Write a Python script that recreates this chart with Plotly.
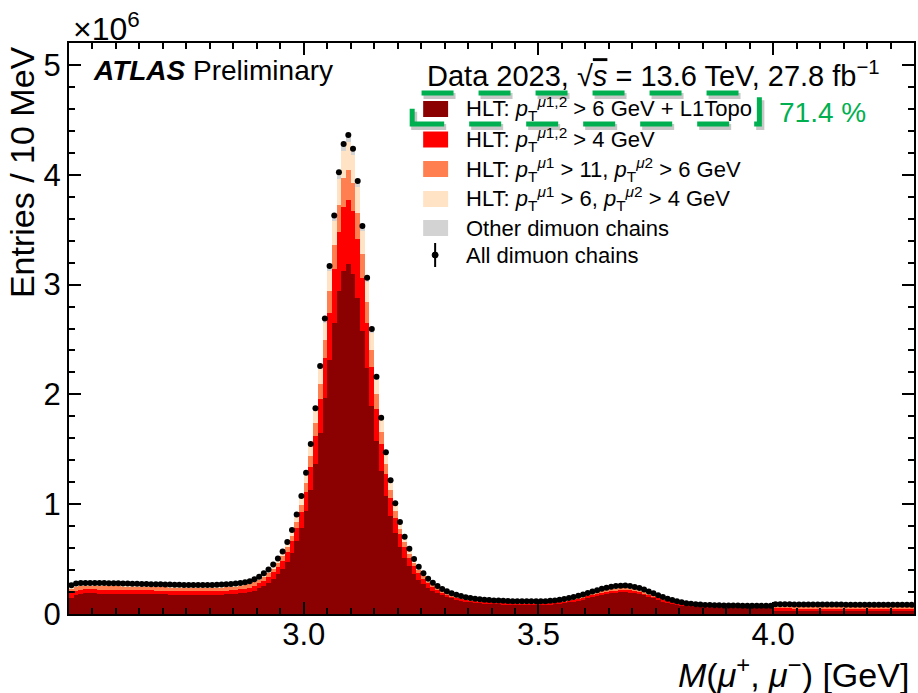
import numpy as np
import plotly.graph_objects as go

# ---------------- data (thousands of entries per 10 MeV bin) ----------------
bin_low, bin_width, n_bins = 2.50, 0.01, 180
mass_centers = np.round(bin_low + bin_width * (np.arange(n_bins) + 0.5), 4)

all_chains = [
    262, 278, 282, 283, 283, 283, 282, 282, 281, 280,
    279, 278, 277, 276, 275, 274, 273, 272, 271, 270,
    269, 268, 267, 266, 265, 264, 264, 264, 264, 264,
    265, 266, 268, 270, 273, 277, 282, 289, 298, 316,
    340, 370, 405, 450, 505, 570, 655, 765, 905, 1075,
    1287, 1548, 1873, 2259, 2690, 3169, 3628, 4023, 4280, 4362,
    4238, 3944, 3534, 3063, 2596, 2161, 1788, 1473, 1218, 1008,
    838, 704, 595, 500, 430, 370, 322, 285, 255, 228,
    207, 190, 176, 164, 153, 145, 139, 134, 130, 127,
    124, 122, 120, 118, 117, 116, 115, 115, 115, 115,
    115, 117, 120, 124, 130, 137, 145, 155, 166, 178,
    191, 204, 217, 229, 240, 248, 254, 258, 259, 256,
    247, 236, 222, 205, 188, 171, 155, 140, 127, 116,
    106, 99, 93, 89, 86, 83, 81, 80, 79, 78,
    78, 77, 77, 76, 76, 76, 75, 75, 75, 75,
    88, 88, 88, 88, 87, 87, 87, 87, 87, 86,
    86, 86, 86, 86, 86, 85, 85, 85, 85, 85,
    85, 85, 84, 84, 84, 84, 84, 84, 84, 84,
]

hlt_6gev_l1topo = [
    145, 172, 186, 187, 187, 187, 186, 186, 185, 185,
    184, 183, 183, 182, 182, 181, 180, 180, 179, 178,
    178, 177, 176, 176, 175, 174, 174, 174, 174, 174,
    175, 176, 177, 178, 180, 183, 187, 193, 200, 214,
    233, 256, 283, 318, 360, 410, 478, 558, 661, 785,
    940, 1130, 1367, 1649, 1964, 2313, 2648, 2937, 3124, 3184,
    3094, 2879, 2580, 2236, 1895, 1578, 1305, 1075, 889, 736,
    612, 514, 434, 365, 314, 272, 238, 212, 191, 172,
    157, 144, 134, 125, 116, 110, 106, 102, 99, 97,
    94, 93, 91, 90, 89, 88, 87, 87, 87, 87,
    87, 89, 91, 94, 99, 104, 110, 118, 126, 135,
    145, 155, 165, 174, 182, 188, 193, 196, 197, 195,
    188, 179, 169, 156, 143, 130, 118, 106, 97, 88,
    81, 75, 71, 68, 65, 63, 62, 61, 60, 59,
    59, 58, 58, 58, 58, 58, 57, 57, 57, 57,
    30, 30, 30, 30, 30, 30, 30, 30, 30, 29,
    29, 29, 29, 29, 29, 29, 29, 29, 29, 29,
    29, 29, 29, 29, 29, 29, 29, 29, 29, 29,
]

hlt_4gev = [
    50, 40, 37, 37, 37, 37, 37, 37, 37, 36,
    36, 36, 36, 36, 36, 36, 35, 35, 35, 35,
    35, 35, 35, 35, 34, 34, 34, 34, 34, 34,
    34, 35, 35, 35, 35, 37, 38, 39, 40, 42,
    45, 49, 54, 60, 67, 76, 88, 103, 122, 145,
    174, 209, 253, 305, 363, 428, 490, 543, 578, 589,
    572, 532, 477, 414, 350, 292, 241, 199, 164, 136,
    113, 95, 80, 68, 58, 49, 42, 36, 31, 25,
    21, 19, 18, 16, 15, 15, 14, 13, 13, 13,
    12, 12, 12, 12, 12, 12, 12, 12, 12, 12,
    12, 12, 12, 12, 13, 14, 15, 16, 17, 18,
    19, 20, 22, 23, 24, 25, 25, 26, 26, 26,
    25, 24, 22, 21, 19, 17, 16, 14, 13, 12,
    11, 10, 9, 9, 9, 8, 8, 8, 8, 8,
    8, 8, 8, 8, 8, 8, 8, 8, 8, 8,
    25, 25, 25, 25, 24, 24, 24, 24, 24, 24,
    24, 24, 24, 24, 24, 24, 24, 24, 24, 24,
    24, 24, 23, 23, 23, 23, 23, 23, 23, 23,
]

hlt_11_6gev = [
    35, 32, 31, 31, 31, 31, 31, 31, 31, 31,
    31, 31, 30, 30, 30, 30, 30, 30, 30, 30,
    30, 29, 29, 29, 29, 29, 29, 29, 29, 29,
    29, 29, 29, 30, 30, 30, 30, 30, 31, 31,
    32, 33, 35, 36, 37, 38, 41, 47, 56, 67,
    80, 96, 116, 140, 167, 196, 225, 249, 265, 270,
    263, 245, 219, 190, 161, 134, 111, 91, 76, 62,
    52, 44, 37, 31, 27, 23, 20, 17, 15, 14,
    12, 11, 11, 10, 9, 9, 8, 8, 8, 8,
    7, 7, 7, 7, 7, 7, 7, 7, 7, 7,
    7, 7, 7, 7, 8, 8, 9, 9, 10, 11,
    11, 12, 13, 14, 14, 15, 15, 15, 16, 15,
    15, 14, 13, 12, 11, 10, 9, 8, 8, 7,
    6, 6, 6, 5, 5, 5, 5, 5, 5, 5,
    5, 5, 5, 4, 4, 4, 4, 4, 4, 4,
    12, 12, 12, 12, 12, 12, 12, 12, 12, 12,
    12, 12, 12, 12, 12, 12, 12, 12, 12, 12,
    12, 12, 12, 12, 12, 12, 12, 12, 12, 12,
]

hlt_6_4gev = [
    22, 22, 20, 20, 20, 20, 20, 20, 20, 20,
    20, 20, 19, 19, 19, 19, 19, 19, 19, 19,
    19, 19, 19, 19, 19, 18, 18, 18, 18, 18,
    19, 19, 19, 19, 19, 19, 19, 19, 19, 20,
    21, 23, 24, 27, 30, 34, 39, 45, 53, 63,
    76, 91, 111, 133, 159, 187, 214, 237, 253, 257,
    250, 233, 209, 181, 153, 127, 106, 87, 72, 59,
    49, 42, 35, 29, 25, 21, 18, 16, 14, 12,
    11, 10, 10, 9, 8, 8, 8, 7, 7, 7,
    7, 7, 7, 6, 6, 6, 6, 6, 6, 6,
    6, 6, 7, 7, 7, 8, 8, 9, 9, 10,
    11, 11, 12, 13, 13, 14, 14, 14, 14, 14,
    14, 13, 12, 11, 10, 9, 9, 8, 7, 6,
    6, 5, 5, 5, 5, 5, 4, 4, 4, 4,
    4, 4, 4, 4, 4, 4, 4, 4, 4, 4,
    14, 14, 14, 14, 14, 14, 14, 14, 14, 14,
    14, 14, 14, 14, 14, 13, 13, 13, 13, 13,
    13, 13, 13, 13, 13, 13, 13, 13, 13, 13,
]

other_chains = [
    10, 12, 8, 8, 8, 8, 8, 8, 8, 8,
    8, 8, 9, 9, 8, 8, 9, 8, 8, 8,
    7, 8, 8, 7, 8, 9, 9, 9, 9, 9,
    8, 7, 8, 8, 9, 8, 8, 8, 8, 9,
    9, 9, 9, 9, 11, 12, 9, 12, 13, 15,
    17, 22, 26, 32, 37, 45, 51, 57, 60, 62,
    59, 55, 49, 42, 37, 30, 25, 21, 17, 15,
    12, 9, 9, 7, 6, 5, 4, 4, 4, 5,
    6, 6, 3, 4, 5, 3, 3, 4, 3, 2,
    4, 3, 3, 3, 3, 3, 3, 3, 3, 3,
    3, 3, 3, 4, 3, 3, 3, 3, 4, 4,
    5, 6, 5, 5, 7, 6, 7, 7, 6, 6,
    5, 6, 6, 5, 5, 5, 3, 4, 2, 3,
    2, 3, 2, 2, 2, 2, 2, 2, 2, 2,
    2, 2, 2, 2, 2, 2, 2, 2, 2, 2,
    7, 7, 7, 7, 7, 7, 7, 7, 7, 7,
    7, 7, 7, 7, 7, 7, 7, 7, 7, 7,
    7, 7, 7, 7, 7, 7, 7, 7, 7, 7,
]

x_tick_vals = [3.0, 3.5, 4.0]
x_tick_text = ["3.0", "3.5", "4.0"]
y_tick_vals = [0, 1e6, 2e6, 3e6, 4e6, 5e6]
y_tick_text = ["0", "1", "2", "3", "4", "5"]

labels = [
    "HLT: <i>p</i><sub>T</sub><sup><i>μ</i>1,2</sup> > 6 GeV + L1Topo",
    "HLT: <i>p</i><sub>T</sub><sup><i>μ</i>1,2</sup> > 4 GeV",
    "HLT: <i>p</i><sub>T</sub><sup><i>μ</i>1</sup> > 11, <i>p</i><sub>T</sub><sup><i>μ</i>2</sup> > 6 GeV",
    "HLT: <i>p</i><sub>T</sub><sup><i>μ</i>1</sup> > 6, <i>p</i><sub>T</sub><sup><i>μ</i>2</sup> > 4 GeV",
    "Other dimuon chains",
    "All dimuon chains",
]
colors = ["#8B0000", "#FF0000", "#FF7F50", "#FFE3C4", "#D3D3D3"]
layers = [hlt_6gev_l1topo, hlt_4gev, hlt_11_6gev, hlt_6_4gev, other_chains]

# ---------------- figure ----------------
W, H = 918, 693
L, R, T, B = 69, 916, 43, 614
FONT = "Liberation Sans, Arial, Helvetica, sans-serif"


def xp(px):
    return (px - L) / (R - L)


def yp(py):
    return (B - py) / (B - T)


fig = go.Figure()
for vals, col, name in zip(layers, colors, labels[:5]):
    fig.add_trace(go.Bar(
        x=mass_centers, y=np.array(vals) * 1000.0, width=bin_width,
        marker=dict(color=col, line=dict(width=0)), name=name, showlegend=False,
    ))
fig.add_trace(go.Scatter(
    x=mass_centers, y=np.array(all_chains) * 1000.0, mode="markers",
    marker=dict(color="black", size=6), name=labels[5], showlegend=False,
))

axis_common = dict(
    showline=True, linecolor="black", linewidth=2, mirror="ticks",
    ticks="inside", ticklen=12, tickwidth=1.5, tickcolor="black",
    showgrid=False, zeroline=False,
    tickfont=dict(family=FONT, size=31, color="black"),
)
fig.update_xaxes(
    range=[2.5, 4.3], tickmode="array", tickvals=x_tick_vals, ticktext=x_tick_text,
    ticklabelstandoff=-8,
    minor=dict(ticks="inside", ticklen=6, tickwidth=1.5, tickcolor="black",
               tick0=2.5, dtick=0.05, showgrid=False),
    **axis_common,
)
fig.update_yaxes(
    range=[0, 5.2e6], tickmode="array", tickvals=y_tick_vals, ticktext=y_tick_text,
    minor=dict(ticks="inside", ticklen=6, tickwidth=1.5, tickcolor="black",
               tick0=0, dtick=2e5, showgrid=False),
    **axis_common,
)

shapes = []
annotations = []

# legend
rows = [109, 139.5, 169, 199, 228, 255]
for i in range(5):
    shapes.append(dict(type="rect", xref="paper", yref="paper",
                       x0=xp(424), x1=xp(449), y0=yp(rows[i] + 8), y1=yp(rows[i] - 8),
                       fillcolor=colors[i], line=dict(width=0), layer="above"))
shapes.append(dict(type="line", xref="paper", yref="paper",
                   x0=xp(436), x1=xp(436), y0=yp(rows[5] + 12), y1=yp(rows[5] - 12),
                   line=dict(color="black", width=2), layer="above"))
shapes.append(dict(type="circle", xref="paper", yref="paper",
                   x0=xp(433), x1=xp(439), y0=yp(rows[5] + 3), y1=yp(rows[5] - 3),
                   fillcolor="black", line=dict(color="black", width=1), layer="above"))
for i, lab in enumerate(labels):
    annotations.append(dict(text=lab, xref="paper", yref="paper", x=xp(465), y=yp(rows[i]),
                            xanchor="left", yanchor="middle", showarrow=False,
                            font=dict(family=FONT, size=22, color="black")))

# green highlight box
shapes.append(dict(type="rect", xref="paper", yref="paper",
                   x0=xp(415), x1=xp(763), y0=yp(127), y1=yp(96),
                   line=dict(color="rgba(0,0,0,0.22)", width=6, dash="32px,25px"),
                   layer="above"))
shapes.append(dict(type="rect", xref="paper", yref="paper",
                   x0=xp(413), x1=xp(761), y0=yp(124), y1=yp(93),
                   line=dict(color="#00B050", width=5, dash="32px,25px"),
                   layer="above"))
annotations.append(dict(text="71.4 %", xref="paper", yref="paper", x=xp(779), y=yp(112),
                        xanchor="left", yanchor="middle", showarrow=False,
                        font=dict(family=FONT, size=28, color="#00B050")))

# header texts
annotations.append(dict(text="<b><i>ATLAS</i></b> Preliminary", xref="paper", yref="paper",
                        x=xp(91), y=yp(71), xanchor="left", yanchor="middle", showarrow=False,
                        font=dict(family=FONT, size=28, color="black")))
annotations.append(dict(
    text="Data 2023, √<span style='text-decoration:overline'><i>s</i></span> = 13.6 TeV, 27.8 fb<sup>−1</sup>",
    xref="paper", yref="paper", x=xp(426), y=yp(74), xanchor="left", yanchor="middle",
    showarrow=False, font=dict(family=FONT, size=29, color="black")))
annotations.append(dict(text="×10<sup>6</sup>", xref="paper", yref="paper",
                        x=xp(71), y=yp(27), xanchor="left", yanchor="middle", showarrow=False,
                        font=dict(family=FONT, size=32, color="black")))

# axis titles
annotations.append(dict(text="<i>M</i>(<i>μ</i><sup>+</sup>, <i>μ</i><sup>−</sup>) [GeV]",
                        xref="paper", yref="paper", x=xp(913), y=yp(672),
                        xanchor="right", yanchor="middle", showarrow=False,
                        font=dict(family=FONT, size=34, color="black")))
annotations.append(dict(text="Entries / 10 MeV", xref="paper", yref="paper",
                        x=xp(22), y=yp(44), xanchor="center", yanchor="top",
                        textangle=-90, showarrow=False,
                        font=dict(family=FONT, size=34, color="black")))

fig.update_layout(
    width=W, height=H,
    margin=dict(l=L, r=W - R, t=T, b=H - B),
    barmode="stack", bargap=0,
    plot_bgcolor="white", paper_bgcolor="white",
    font=dict(family=FONT, color="black"),
    showlegend=False,
    shapes=shapes, annotations=annotations,
)

fig.write_html(
    "out.html",
    config={"displayModeBar": False},
    post_script="document.body.style.margin='0px';document.body.style.padding='0px';"
                "document.body.style.overflow='hidden';",
)
